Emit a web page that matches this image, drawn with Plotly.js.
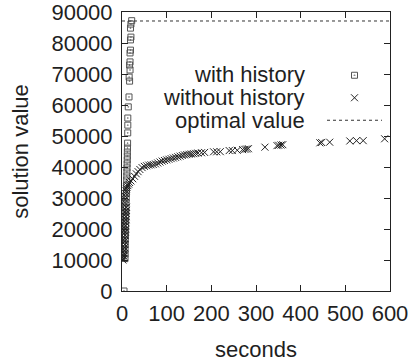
<!DOCTYPE html>
<html>
<head>
<meta charset="utf-8">
<script src="https://cdn.plot.ly/plotly-3.0.1.min.js"></script>
<style>
html,body{margin:0;padding:0;background:#fff;}
#chart{width:409px;height:362px;}
</style>
</head>
<body>
<div id="chart"></div>
<script>
// ---- data ----
const seriesNames = ["with history", "without history", "optimal value"];

const withHistoryX = [21.7,20,19,20,19,19,18,18,17,18,16,17,15.7,14,13,13,12.8,12.5,12.3,12,12,11.8,11.5,11.2,11,10.8,10.5,10.3,10,9.8,9.5,9.3,9,8.8,8.5,8.3,8,8,7.8,7.5,7.3,7,7,6.8,4.5];
const withHistoryY = [87200,86100,84800,81900,81000,77700,76800,73900,72900,71300,69000,67700,62600,59400,55800,53500,51000,47700,46100,44800,43500,42300,41000,39700,38400,37100,35800,34200,32600,31500,30000,28500,27000,25500,24000,22500,21000,19500,18000,16500,15000,13500,12000,10500,0];

const withoutHistoryX = [2,3,2,4,2.5,4.5,2.5,5,3,5.5,3,6,3,6,3.5,6.5,3.5,7,4,7.5,4,8,4,8,4.5,8.5,4.5,9,5,9,5,9.5,5.5,10,5.5,10,6,6.5,7,7.5,8,9,10,11,13,15,17,20,24,28,32,36,40,45,50,55,60,65,70,75,80,85,90,95,100,105,110,115,120,125,130,135,140,145,150,155,160,165,170,178,185,205,212,220,240,247,258,270,275,279,283,320,347,351,356,360,443,447,465,510,525,540,588];
const withoutHistoryY = [10000,10400,10800,11200,11500,12000,12500,13000,13500,14000,14500,15000,15500,16000,16500,17000,17500,18000,18500,19000,19500,20000,20500,21000,21500,22000,22500,23000,23500,24000,24500,25000,25500,26000,26500,27000,27500,28500,29500,30500,31500,32300,33000,33500,34000,34500,35000,35500,36200,37000,37800,38500,39200,39800,40200,40400,40600,40700,40800,41000,41300,41600,41900,42100,42300,42500,42700,42900,43100,43300,43500,43700,43900,44000,44100,44200,44300,44400,44500,44600,44700,44900,44900,44950,45300,45300,45400,45600,45700,45800,45900,46400,46900,47000,47100,47200,47800,47900,48000,48400,48500,48500,49100];

const optimalValue = 87100;
const xExtent = [0, 600];

const xTickVals = [0,100,200,300,400,500,600];
const yTickVals = [0,10000,20000,30000,40000,50000,60000,70000,80000,90000];

// ---- chart ----
const FONT = "Liberation Sans, Arial, Helvetica, sans-serif";
const TXT = "#1f1f1f";
const FS = 22;

const traces = [
  {
    x: withHistoryX, y: withHistoryY, name: " ", type: "scatter", mode: "markers",
    marker: {symbol: "square-open-dot", size: 6, color: "#555", line: {width: 1, color: "#555"}},
    hoverinfo: "skip"
  },
  {
    x: withoutHistoryX, y: withoutHistoryY, name: " ", type: "scatter", mode: "markers",
    marker: {symbol: "x-thin-open", size: 7, color: "#222", line: {width: 1, color: "#222"}},
    hoverinfo: "skip"
  },
  {
    x: xExtent, y: [optimalValue, optimalValue], name: " ", type: "scatter", mode: "lines",
    line: {dash: "dot", width: 1, color: "#333"},
    hoverinfo: "skip"
  }
];

const annY = [74, 97, 120];
const annotations = seriesNames.map((t, i) => ({
  text: t, xref: "paper", yref: "paper",
  x: (307 - 122) / 268, y: (291 - annY[i]) / 279,
  xanchor: "right", yanchor: "middle", showarrow: false,
  font: {family: FONT, size: FS, color: TXT}
}));

const layout = {
  width: 409, height: 362,
  margin: {l: 122, r: 19, t: 12, b: 71, pad: 0},
  paper_bgcolor: "#fff", plot_bgcolor: "#fff",
  font: {family: FONT, size: FS, color: TXT},
  showlegend: true,
  legend: {
    x: (322 - 122) / 268, y: (291 - 59) / 279, xanchor: "left", yanchor: "top",
    bgcolor: "rgba(0,0,0,0)", borderwidth: 0,
    font: {family: FONT, size: 15, color: TXT},
    itemwidth: 55
  },
  xaxis: {
    range: xExtent, tickvals: xTickVals, ticktext: xTickVals.map(String),
    ticks: "inside", ticklen: 6, tickcolor: "#222", tickwidth: 1,
    showline: true, linecolor: "#222", linewidth: 1, mirror: "ticks",
    showgrid: false, zeroline: false, ticklabelstandoff: 3,
    ticklabeloverflow: "allow",
    tickfont: {family: FONT, size: FS, color: TXT},
    title: {text: "seconds", font: {family: FONT, size: FS, color: TXT}, standoff: 18}
  },
  yaxis: {
    range: [0, 90000], tickvals: yTickVals, ticktext: yTickVals.map(String),
    ticks: "inside", ticklen: 6, tickcolor: "#222", tickwidth: 1,
    showline: true, linecolor: "#222", linewidth: 1, mirror: "ticks",
    showgrid: false, zeroline: false, ticklabelstandoff: 4,
    ticklabeloverflow: "allow",
    tickfont: {family: FONT, size: FS, color: TXT},
    title: {text: "solution value", font: {family: FONT, size: FS, color: TXT}, standoff: 16}
  },
  annotations: annotations
};

Plotly.newPlot("chart", traces, layout, {displayModeBar: false, staticPlot: true});
</script>
</body>
</html>
